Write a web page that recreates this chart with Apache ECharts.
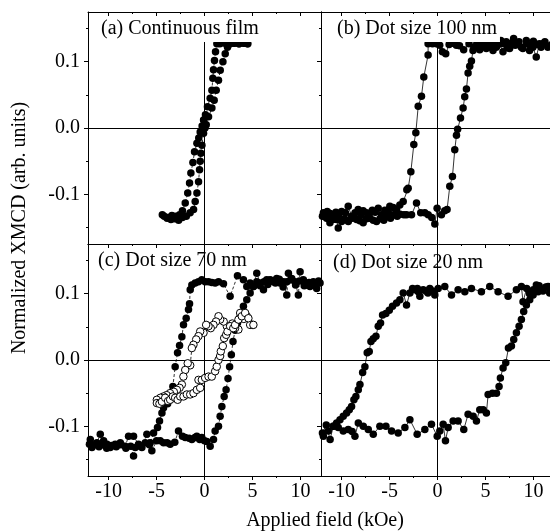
<!DOCTYPE html>
<html>
<head>
<meta charset="utf-8">
<script src="https://cdn.jsdelivr.net/npm/echarts@6/dist/echarts.min.js"></script>
<style>html,body{margin:0;padding:0;background:#fff;}#chart{width:550px;height:531px;}</style>
</head>
<body>
<div id="chart"></div>
<script>
// ---- tick values / labels ----
const xMajorTicks = [-10, -5, 0, 5, 10];
const xMinorTicks = [-7.5, -2.5, 2.5, 7.5];
const yMajorTicks = [-0.1, 0, 0.1];
const yMinorTicks = [-0.15, -0.05, 0.05, 0.15];
const xRange = [-12.15, 12.15];
const yRange = [-0.175, 0.175];
const panelTitles = ['(a) Continuous film', '(b) Dot size 100 nm', '(c) Dot size 70 nm', '(d) Dot size 20 nm'];
const xTitle = 'Applied field (kOe)';
const yTitle = 'Normalized XMCD (arb. units)';

// ---- (a) continuous film ----
const filmDown = [[4.5,0.127],[4.1,0.128],[3.6,0.127],[3.1,0.128],[2.6,0.127],[2.1,0.128],[1.6,0.127],[1.29,0.127],[1.15,0.115],[1.04,0.102],[0.94,0.088],[0.87,0.075],[0.77,0.057],[0.59,0.045],[0.31,0.032],[0.1,0.02],[-0.10,0.012],[-0.25,0.003],[-0.45,-0.006],[-0.6,-0.015],[-0.79,-0.023],[-1.04,-0.036],[-1.21,-0.052],[-1.42,-0.068],[-1.56,-0.083],[-1.75,-0.098],[-2.01,-0.113],[-2.3,-0.125],[-2.6,-0.131],[-3.0,-0.133],[-3.4,-0.132],[-3.8,-0.135],[-4.2,-0.133]];
const filmUp = [[-4.4,-0.131],[-3.9,-0.136],[-3.5,-0.138],[-3.1,-0.137],[-2.7,-0.139],[-2.3,-0.135],[-1.9,-0.133],[-1.5,-0.128],[-1.14,-0.123],[-0.97,-0.111],[-0.79,-0.098],[-0.62,-0.081],[-0.52,-0.063],[-0.45,-0.05],[-0.38,-0.038],[-0.27,-0.026],[-0.10,-0.008],[0.05,0.0],[0.18,0.005],[0.42,0.017],[0.77,0.030],[1.01,0.042],[1.22,0.057],[1.46,0.072],[1.64,0.087],[1.92,0.100],[2.16,0.112],[2.40,0.122],[2.68,0.127],[3.1,0.128],[3.6,0.127],[4.1,0.128],[4.5,0.127]];

// ---- (b) 100 nm ----
const dot100Down = [[12.0,0.127],[11.7,0.124],[11.2,0.130],[10.8,0.122],[10.4,0.126],[10.0,0.131],[9.7,0.124],[9.3,0.127],[8.9,0.120],[8.5,0.130],[8.1,0.125],[7.7,0.128],[7.3,0.121],[6.9,0.127],[6.6,0.132],[6.2,0.124],[5.9,0.128],[5.5,0.122],[5.2,0.126],[4.8,0.131],[4.5,0.125],[4.1,0.128],[3.8,0.122],[3.29,0.127],[2.73,0.118],[2.3,0.124],[1.97,0.125],[1.6,0.128],[1.21,0.126],[0.86,0.112],[0.51,0.115],[0.23,0.125],[-0.11,0.127],[-0.53,0.127],[-0.98,0.127],[-0.98,0.110],[-1.43,0.077],[-1.67,0.048],[-2.01,0.033],[-2.26,-0.007],[-2.47,-0.025],[-2.78,-0.066],[-3.06,-0.091],[-3.2,-0.093],[-3.58,-0.111],[-3.93,-0.116],[-4.27,-0.123],[-4.62,-0.120],[-4.97,-0.118],[-5.14,-0.126],[-5.49,-0.124],[-5.84,-0.131],[-6.18,-0.121],[-6.5,-0.127],[-6.8,-0.124],[-7.1,-0.129],[-7.4,-0.128],[-7.75,-0.125],[-8.0,-0.131],[-8.27,-0.123],[-8.6,-0.128],[-8.96,-0.133],[-9.31,-0.118],[-9.6,-0.128],[-10.0,-0.126],[-10.3,-0.131],[-10.6,-0.127],[-10.87,-0.131],[-11.2,-0.129],[-11.5,-0.126],[-11.9,-0.128]];
const dot100Up = [[-12.0,-0.133],[-11.57,-0.136],[-11.22,-0.143],[-10.9,-0.138],[-10.52,-0.138],[-10.35,-0.151],[-10.0,-0.141],[-9.7,-0.137],[-9.3,-0.141],[-8.9,-0.136],[-8.44,-0.138],[-8.1,-0.140],[-7.75,-0.143],[-7.4,-0.137],[-7.05,-0.136],[-6.7,-0.139],[-6.36,-0.141],[-6.0,-0.137],[-5.6,-0.139],[-5.3,-0.134],[-4.9,-0.136],[-4.6,-0.131],[-4.2,-0.133],[-3.9,-0.130],[-3.5,-0.131],[-3.23,-0.131],[-2.71,-0.131],[-2.19,-0.113],[-1.75,-0.128],[-1.32,-0.128],[-0.97,-0.131],[-0.6,-0.135],[-0.28,-0.145],[-0.04,-0.121],[0.41,-0.131],[0.75,-0.125],[1.0,-0.123],[1.28,-0.088],[1.56,-0.073],[1.80,-0.033],[1.98,-0.011],[2.1,-0.002],[2.40,0.015],[2.67,0.030],[2.84,0.047],[3.02,0.059],[3.19,0.083],[3.36,0.093],[3.54,0.101],[3.7,0.117],[4.05,0.122],[4.4,0.118],[4.75,0.127],[5.09,0.120],[5.44,0.130],[5.79,0.117],[6.13,0.122],[6.48,0.127],[6.83,0.115],[7.17,0.130],[7.52,0.120],[7.94,0.135],[8.39,0.127],[8.74,0.122],[9.26,0.132],[9.6,0.117],[9.95,0.122],[10.3,0.107],[10.64,0.127],[10.99,0.127],[11.51,0.122],[12.0,0.125]];

// ---- (c) 70 nm, filled ----
const dot70Down = [[12.05,0.116],[11.7,0.108],[11.35,0.118],[11.0,0.111],[10.66,0.113],[10.31,0.121],[9.97,0.133],[9.79,0.098],[9.44,0.118],[9.1,0.123],[8.75,0.131],[8.58,0.098],[8.23,0.118],[7.88,0.116],[7.53,0.123],[7.19,0.118],[6.84,0.121],[6.49,0.121],[6.15,0.106],[5.8,0.116],[5.45,0.131],[5.1,0.111],[4.76,0.116],[4.41,0.111],[4.06,0.121],[3.44,0.127],[2.67,0.096],[1.98,0.115],[1.46,0.118],[1.11,0.116],[0.76,0.117],[0.42,0.118],[0.07,0.118],[-0.28,0.121],[-0.63,0.118],[-0.97,0.116],[-1.32,0.113],[-1.49,0.106],[-1.56,0.085],[-1.67,0.076],[-1.91,0.063],[-2.19,0.053],[-2.36,0.035],[-2.6,0.022],[-2.81,0.011],[-3.06,-0.010],[-3.30,-0.040],[-3.58,-0.057],[-3.85,-0.066],[-4.27,-0.072],[-4.44,-0.080],[-4.69,-0.092],[-4.9,-0.102],[-5.31,-0.110],[-5.66,-0.125],[-6.01,-0.112],[-6.53,-0.132],[-6.88,-0.127],[-7.40,-0.115],[-7.92,-0.115],[-8.26,-0.130],[-8.78,-0.125],[-9.31,-0.127],[-9.83,-0.132],[-10.17,-0.127],[-10.52,-0.122],[-10.87,-0.112],[-11.22,-0.125],[-11.74,-0.132],[-12.0,-0.127]];
const dot70Up = [[-11.91,-0.120],[-11.5,-0.128],[-11.0,-0.131],[-10.6,-0.128],[-10.2,-0.133],[-9.7,-0.129],[-9.2,-0.131],[-8.7,-0.128],[-8.2,-0.133],[-7.7,-0.130],[-7.40,-0.145],[-7.22,-0.132],[-6.7,-0.130],[-6.18,-0.125],[-5.75,-0.128],[-5.49,-0.137],[-5.0,-0.122],[-4.62,-0.122],[-4.27,-0.125],[-3.9,-0.125],[-3.58,-0.127],[-3.1,-0.124],[-2.71,-0.107],[-2.3,-0.115],[-2.01,-0.117],[-1.6,-0.118],[-1.32,-0.120],[-1.0,-0.117],[-0.80,-0.115],[-0.5,-0.120],[-0.28,-0.117],[0.0,-0.122],[0.24,-0.123],[0.59,-0.130],[0.94,-0.120],[1.11,-0.107],[1.46,-0.100],[1.63,-0.085],[1.81,-0.070],[2.05,-0.055],[2.25,-0.045],[2.45,-0.028],[2.62,-0.010],[2.8,0.008],[2.97,0.028],[3.2,0.045],[3.44,0.056],[3.72,0.066],[4.06,0.081],[4.41,0.091],[4.76,0.101],[5.1,0.111],[5.45,0.118],[5.8,0.112],[6.2,0.118],[6.6,0.114],[7.0,0.120],[7.4,0.116],[7.8,0.122],[8.2,0.110],[8.6,0.118],[9.0,0.121],[9.5,0.113],[9.9,0.119],[10.4,0.112],[10.9,0.117],[11.4,0.114],[11.9,0.119]];

// ---- (c) 70 nm, open circles ----
const dot70OpenDown = [[5.0,0.053],[4.76,0.053],[4.41,0.066],[4.1,0.062],[3.72,0.071],[3.54,0.046],[3.19,0.048],[2.9,0.055],[2.67,0.048],[2.33,0.051],[2.0,0.058],[1.63,0.061],[1.46,0.066],[1.2,0.058],[0.94,0.053],[0.65,0.048],[0.42,0.051],[0.17,0.053],[-0.1,0.041],[-0.45,0.043],[-0.63,0.036],[-0.87,0.031],[-1.15,0.023],[-1.32,0.018],[-1.49,-0.008],[-1.75,-0.005],[-2.01,-0.015],[-2.2,-0.025],[-2.36,-0.037],[-2.6,-0.042],[-2.88,-0.045],[-3.2,-0.048],[-3.6,-0.050],[-3.95,-0.053],[-4.27,-0.055],[-4.6,-0.057],[-4.97,-0.060]];
const dot70OpenUp = [[-4.97,-0.065],[-4.7,-0.066],[-4.44,-0.063],[-4.1,-0.057],[-3.8,-0.062],[-3.58,-0.060],[-3.3,-0.055],[-3.06,-0.057],[-2.8,-0.060],[-2.53,-0.055],[-2.19,-0.055],[-1.84,-0.052],[-1.49,-0.052],[-1.15,-0.050],[-0.8,-0.045],[-0.45,-0.042],[-0.63,-0.030],[-0.28,-0.030],[0.07,-0.027],[0.42,-0.025],[0.76,-0.025],[1.11,-0.017],[1.28,-0.010],[1.46,0.0],[1.63,0.006],[1.70,0.013],[1.91,0.021],[2.05,0.033],[2.26,0.038],[2.40,0.043],[2.67,0.051],[3.0,0.048],[3.19,0.053],[3.54,0.061],[3.89,0.066],[4.24,0.071],[4.58,0.063],[5.1,0.053]];

// ---- (d) 20 nm ----
const dot20Down = [[11.9,0.108],[11.7,0.101],[11.3,0.110],[11.0,0.104],[10.6,0.112],[10.31,0.113],[10.0,0.106],[9.6,0.100],[9.3,0.108],[8.92,0.088],[8.75,0.111],[8.23,0.106],[7.36,0.096],[6.32,0.103],[5.45,0.111],[4.58,0.103],[3.54,0.108],[2.85,0.103],[2.15,0.106],[1.46,0.098],[0.76,0.111],[0.07,0.108],[-0.28,0.098],[-0.5,0.104],[-0.80,0.108],[-1.0,0.101],[-1.2,0.104],[-1.49,0.106],[-1.84,0.096],[-2.0,0.103],[-2.1,0.108],[-2.36,0.106],[-2.6,0.108],[-2.88,0.101],[-3.23,0.083],[-3.58,0.101],[-3.92,0.091],[-4.27,0.086],[-4.69,0.081],[-5.03,0.075],[-5.38,0.070],[-5.73,0.068],[-5.94,0.056],[-6.18,0.051],[-6.42,0.036],[-6.70,0.032],[-6.94,0.028],[-7.12,0.013],[-7.33,0.011],[-7.57,-0.010],[-7.81,-0.019],[-8.09,-0.037],[-8.26,-0.045],[-8.51,-0.055],[-8.72,-0.060],[-8.96,-0.070],[-9.2,-0.075],[-9.48,-0.080],[-9.83,-0.085],[-10.17,-0.090],[-10.52,-0.095],[-10.87,-0.100],[-11.39,-0.107],[-11.9,-0.115]];
const dot20Up = [[-12.0,-0.110],[-11.6,-0.098],[-11.2,-0.120],[-10.87,-0.100],[-10.35,-0.102],[-9.83,-0.107],[-9.31,-0.105],[-8.9,-0.108],[-8.61,-0.115],[-8.26,-0.095],[-7.74,-0.100],[-7.22,-0.105],[-6.70,-0.112],[-6.01,-0.100],[-5.38,-0.100],[-4.79,-0.107],[-4.1,-0.110],[-3.4,-0.102],[-2.88,-0.090],[-2.12,-0.112],[-1.32,-0.105],[-0.63,-0.097],[-0.03,-0.115],[0.24,-0.107],[0.59,-0.097],[0.83,-0.122],[1.11,-0.102],[1.63,-0.092],[2.15,-0.092],[2.74,-0.105],[3.19,-0.082],[3.72,-0.085],[4.06,-0.092],[4.41,-0.075],[4.76,-0.075],[5.1,-0.080],[5.28,-0.052],[5.73,-0.050],[6.15,-0.050],[6.42,-0.040],[6.56,-0.027],[6.84,-0.012],[7.12,-0.004],[7.4,0.018],[7.71,0.021],[7.95,0.031],[8.23,0.041],[8.51,0.051],[8.75,0.061],[8.99,0.073],[9.27,0.083],[9.62,0.091],[9.97,0.098],[10.49,0.103],[11.0,0.106],[11.53,0.111],[12.0,0.108]];

const FONT = 'Liberation Serif';
const gridBoxes = [
  {left: 88, top: 12, width: 233, height: 232},
  {left: 321, top: 12, width: 233, height: 232},
  {left: 88, top: 244, width: 233, height: 232},
  {left: 321, top: 244, width: 233, height: 232}
];

const xAxes = [], yAxes = [];
gridBoxes.forEach(function (g, gi) {
  const bottomRow = gi >= 2, leftCol = gi % 2 === 0;
  const xb = {type: 'value', gridIndex: gi, min: xRange[0], max: xRange[1], splitLine: {show: false},
    axisLine: {show: true, onZero: false, lineStyle: {color: '#000', width: 1}}};
  const lab = {color: '#000', fontFamily: FONT, fontSize: 20};
  xAxes.push(Object.assign({}, xb, {position: 'bottom',
    axisTick: {show: true, customValues: xMajorTicks, length: 4, inside: false, lineStyle: {color: '#000'}},
    axisLabel: Object.assign({show: bottomRow, customValues: xMajorTicks, margin: 6}, lab)}));
  xAxes.push(Object.assign({}, xb, {position: 'bottom', axisLine: {show: false, onZero: false},
    axisTick: {show: true, customValues: xMinorTicks, length: 2, inside: false, lineStyle: {color: '#000'}},
    axisLabel: {show: false}}));
  xAxes.push(Object.assign({}, xb, {position: 'top',
    axisTick: {show: true, customValues: xMajorTicks, length: 4, inside: true, lineStyle: {color: '#000'}},
    axisLabel: {show: false}}));
  xAxes.push(Object.assign({}, xb, {position: 'top', axisLine: {show: false, onZero: false},
    axisTick: {show: true, customValues: xMinorTicks, length: 2, inside: true, lineStyle: {color: '#000'}},
    axisLabel: {show: false}}));
  const yb = {type: 'value', gridIndex: gi, min: yRange[0], max: yRange[1], splitLine: {show: false},
    axisLine: {show: true, onZero: false, lineStyle: {color: '#000', width: 1}}};
  yAxes.push(Object.assign({}, yb, {position: 'left',
    axisTick: {show: true, customValues: yMajorTicks, length: 4, inside: false, lineStyle: {color: '#000'}},
    axisLabel: Object.assign({show: leftCol, customValues: yMajorTicks, margin: 8,
      formatter: function (v) { return v.toFixed(1); }}, lab)}));
  yAxes.push(Object.assign({}, yb, {position: 'left', axisLine: {show: false, onZero: false},
    axisTick: {show: true, customValues: yMinorTicks, length: 2, inside: false, lineStyle: {color: '#000'}},
    axisLabel: {show: false}}));
  yAxes.push(Object.assign({}, yb, {position: 'right',
    axisTick: {show: false}, axisLabel: {show: false}}));
});

function loopSeries(data, gi, dashed, open) {
  return {
    type: 'line', data: data, xAxisIndex: 4 * gi, yAxisIndex: 3 * gi,
    symbol: 'circle', symbolSize: open ? 7.5 : 7.5, showSymbol: true, showAllSymbol: true,
    animation: false, silent: true, z: open ? 3 : 2,
    lineStyle: {color: '#000', width: 0.8, type: dashed ? [3, 2] : 'solid'},
    itemStyle: {color: open ? '#fff' : '#000', borderColor: '#000', borderWidth: open ? 1 : 0}
  };
}
function zeroLines(gi) {
  return {
    type: 'line', data: [], xAxisIndex: 4 * gi, yAxisIndex: 3 * gi, z: 1, animation: false, silent: true,
    markLine: {silent: true, z: 1, symbol: 'none', animation: false, label: {show: false},
      lineStyle: {color: '#000', width: 1, type: 'solid'},
      data: [{xAxis: 0}, {yAxis: 0}]}
  };
}

const series = [
  zeroLines(0), zeroLines(1), zeroLines(2), zeroLines(3),
  loopSeries(filmDown.concat(filmUp), 0, true, false),
  loopSeries(dot100Down.concat(dot100Up), 1, false, false),
  loopSeries(dot70Down.concat(dot70Up), 2, true, false),
  loopSeries(dot70OpenDown.concat(dot70OpenUp), 2, true, true),
  loopSeries(dot20Down.concat(dot20Up), 3, false, false)
];

const titlePos = [[98, 29, true], [334, 29, true], [98, 261, false], [333, 263, false]];
const graphics = titlePos.map(function (p, i) {
  return {type: 'text', x: p[0], y: p[1], z: 100,
    style: {text: panelTitles[i], font: '20px "' + FONT + '"', fill: '#000',
      textAlign: 'left', textVerticalAlign: 'middle',
      backgroundColor: p[2] ? '#fff' : null, padding: p[2] ? [5, 3, 1, 3] : 0}};
});
graphics.push({type: 'text', x: 325, y: 521, z: 100,
  style: {text: xTitle, font: '20px "' + FONT + '"', fill: '#000', textAlign: 'center', textVerticalAlign: 'middle'}});
graphics.push({type: 'text', x: 20, y: 228, rotation: Math.PI / 2, z: 100,
  style: {text: yTitle, font: '20px "' + FONT + '"', fill: '#000', textAlign: 'center', textVerticalAlign: 'middle'}});

const chart = echarts.init(document.getElementById('chart'), null, {renderer: 'canvas'});
chart.setOption({
  animation: false,
  backgroundColor: '#fff',
  grid: gridBoxes.map(function (g) { return Object.assign({containLabel: false, outerBoundsMode: 'none', show: false}, g); }),
  xAxis: xAxes,
  yAxis: yAxes,
  series: series,
  graphic: {elements: graphics}
});
</script>
</body>
</html>
